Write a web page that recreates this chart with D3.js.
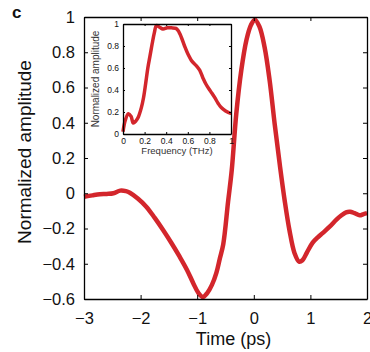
<!DOCTYPE html>
<html>
<head>
<meta charset="utf-8">
<script src="https://cdn.jsdelivr.net/npm/d3@7"></script>
<style>
  body { margin: 0; background: #fff; }
  svg { display: block; font-family: "Liberation Sans", Arial, sans-serif; }
</style>
</head>
<body>
<div id="chart"></div>
<script>
// main trace: time (ps) / normalized amplitude
const timePs = [-3.00, -2.85, -2.72, -2.60, -2.48, -2.36, -2.26, -2.19, -2.05, -1.90, -1.75, -1.60, -1.45, -1.31, -1.18, -1.07, -0.98, -0.90, -0.82, -0.74, -0.66, -0.60, -0.54, -0.455, -0.39, -0.31, -0.22, -0.13, -0.05, 0.02, 0.10, 0.19, 0.28, 0.37, 0.46, 0.545, 0.63, 0.72, 0.80, 0.86, 0.94, 1.04, 1.13, 1.22, 1.34, 1.46, 1.55, 1.63, 1.70, 1.78, 1.87, 1.94, 2.00];
const amplitude = [-0.02, -0.012, -0.006, -0.004, 0.0, 0.015, 0.012, 0.003, -0.03, -0.076, -0.14, -0.21, -0.285, -0.36, -0.435, -0.51, -0.565, -0.588, -0.565, -0.52, -0.45, -0.37, -0.29, -0.05, 0.13, 0.45, 0.70, 0.87, 0.955, 0.985, 0.945, 0.83, 0.64, 0.39, 0.16, -0.04, -0.21, -0.34, -0.388, -0.38, -0.335, -0.28, -0.25, -0.225, -0.19, -0.15, -0.125, -0.108, -0.105, -0.113, -0.125, -0.118, -0.113];

// inset spectrum: frequency (THz) / normalized amplitude
const freqTHz = [0.00, 0.02, 0.05, 0.075, 0.095, 0.12, 0.14, 0.17, 0.19, 0.21, 0.23, 0.25, 0.27, 0.29, 0.31, 0.34, 0.37, 0.41, 0.45, 0.49, 0.51, 0.54, 0.57, 0.60, 0.64, 0.68, 0.71, 0.74, 0.77, 0.81, 0.85, 0.88, 0.91, 0.95, 0.99, 1.00];
const spectrum = [0.02, 0.12, 0.185, 0.16, 0.10, 0.12, 0.15, 0.24, 0.33, 0.46, 0.60, 0.71, 0.82, 0.92, 0.985, 0.97, 0.955, 0.965, 0.965, 0.96, 0.94, 0.88, 0.80, 0.73, 0.66, 0.62, 0.58, 0.51, 0.45, 0.39, 0.33, 0.28, 0.24, 0.21, 0.19, 0.19];

const xTicks = [-3, -2, -1, 0, 1, 2];
const yTicks = [-0.6, -0.4, -0.2, 0, 0.2, 0.4, 0.6, 0.8, 1];
const insetTicks = [0, 0.2, 0.4, 0.6, 0.8, 1];

const width = 370, height = 352;
const margin = {top: 17, right: 3, bottom: 53, left: 84};
const red = "#d3262c";

const svg = d3.select("#chart").append("svg")
    .attr("width", width)
    .attr("height", height);

// scales
const x = d3.scaleLinear().domain([-3, 2]).range([margin.left, width - margin.right]);
const y = d3.scaleLinear().domain([-0.6, 1]).range([height - margin.bottom, margin.top]);

const fmt = d => d3.format("")(d).replace("-", "\u2212");

// curve
const line = d3.line()
    .x((d, i) => x(timePs[i]))
    .y(d => y(d))
    .curve(d3.curveCatmullRom);

svg.append("path")
    .datum(amplitude)
    .attr("d", line)
    .attr("fill", "none")
    .attr("stroke", red)
    .attr("stroke-width", 4.5)
    .attr("stroke-linejoin", "round");

// axes (box with inward ticks)
function styleAxis(g, size) {
  g.selectAll(".domain").attr("stroke", "#000").attr("stroke-width", 1.3);
  g.selectAll(".tick line").attr("stroke", "#000").attr("stroke-width", 1);
  g.selectAll("text").attr("fill", "#111").style("font-size", size + "px");
}

svg.append("g")
    .attr("transform", `translate(0,${y(-0.6)})`)
    .call(d3.axisBottom(x).tickValues(xTicks).tickSize(-4).tickSizeOuter(0).tickPadding(13).tickFormat(fmt))
    .call(g => styleAxis(g, 16.5));

svg.append("g")
    .attr("transform", `translate(0,${y(1)})`)
    .call(d3.axisTop(x).tickValues(xTicks).tickSize(-4).tickSizeOuter(0).tickFormat(""))
    .call(g => styleAxis(g, 16.5));

svg.append("g")
    .attr("transform", `translate(${x(-3)},0)`)
    .call(d3.axisLeft(y).tickValues(yTicks).tickSize(-4).tickSizeOuter(0).tickPadding(9).tickFormat(fmt))
    .call(g => styleAxis(g, 16.5));

svg.append("g")
    .attr("transform", `translate(${x(2)},0)`)
    .call(d3.axisRight(y).tickValues(yTicks).tickSize(-4).tickSizeOuter(0).tickFormat(""))
    .call(g => styleAxis(g, 16.5));

// axis titles
svg.append("text")
    .attr("x", (x(-3) + x(2)) / 2 + 8)
    .attr("y", 345)
    .attr("text-anchor", "middle")
    .style("font-size", "18px")
    .attr("fill", "#111")
    .text("Time (ps)");

svg.append("text")
    .attr("transform", `translate(24,${(y(-0.6) + y(1)) / 2 - 6}) rotate(-90)`)
    .attr("dy", "0.35em")
    .attr("text-anchor", "middle")
    .style("font-size", "19px")
    .attr("fill", "#111")
    .text("Normalized amplitude");

// panel letter
svg.append("text")
    .attr("x", 12)
    .attr("y", 18)
    .style("font-size", "17px")
    .style("font-weight", "bold")
    .attr("fill", "#111")
    .text("c");

// inset
const ix = d3.scaleLinear().domain([0, 1]).range([123, 231]);
const iy = d3.scaleLinear().domain([0, 1]).range([134, 24]);

svg.append("rect")
    .attr("x", ix(0)).attr("y", iy(1))
    .attr("width", ix(1) - ix(0)).attr("height", iy(0) - iy(1))
    .attr("fill", "#fff");

const insetLine = d3.line()
    .x((d, i) => ix(freqTHz[i]))
    .y(d => iy(d))
    .curve(d3.curveCatmullRom);

svg.append("path")
    .datum(spectrum)
    .attr("d", insetLine)
    .attr("fill", "none")
    .attr("stroke", red)
    .attr("stroke-width", 3.5)
    .attr("stroke-linejoin", "round");

svg.append("g")
    .attr("transform", `translate(0,${iy(0)})`)
    .call(d3.axisBottom(ix).tickValues(insetTicks).tickSize(-2).tickSizeOuter(0).tickPadding(4).tickFormat(d3.format("")))
    .call(g => styleAxis(g, 8.5));

svg.append("g")
    .attr("transform", `translate(0,${iy(1)})`)
    .call(d3.axisTop(ix).tickValues(insetTicks).tickSize(-2).tickSizeOuter(0).tickFormat(""))
    .call(g => styleAxis(g, 8.5));

svg.append("g")
    .attr("transform", `translate(${ix(0)},0)`)
    .call(d3.axisLeft(iy).tickValues(insetTicks).tickSize(-2).tickSizeOuter(0).tickPadding(4).tickFormat(d3.format("")))
    .call(g => styleAxis(g, 8.5));

svg.append("g")
    .attr("transform", `translate(${ix(1)},0)`)
    .call(d3.axisRight(iy).tickValues(insetTicks).tickSize(-2).tickSizeOuter(0).tickFormat(""))
    .call(g => styleAxis(g, 8.5));

svg.append("text")
    .attr("x", (ix(0) + ix(1)) / 2)
    .attr("y", 154)
    .attr("text-anchor", "middle")
    .style("font-size", "9.5px")
    .attr("fill", "#333")
    .text("Frequency (THz)");

svg.append("text")
    .attr("transform", `translate(95,${(iy(0) + iy(1)) / 2}) rotate(-90)`)
    .attr("dy", "0.35em")
    .attr("text-anchor", "middle")
    .style("font-size", "10px")
    .attr("fill", "#333")
    .text("Normalized amplitude");
</script>
</body>
</html>
